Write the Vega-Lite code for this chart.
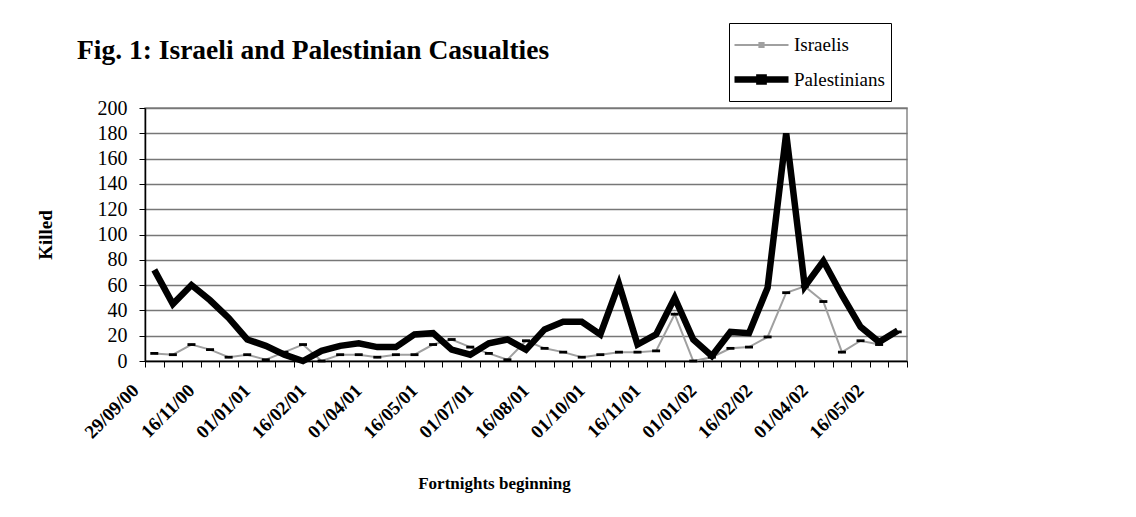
{
  "$schema": "https://vega.github.io/schema/vega-lite/v6.json",
  "autosize": "none",
  "width": 762,
  "height": 253,
  "padding": {"left": 145, "top": 108, "right": 229, "bottom": 156},
  "background": "white",
  "title": {
    "text": "Fig. 1: Israeli and Palestinian Casualties",
    "anchor": "start",
    "frame": "group",
    "dx": -68,
    "offset": -64,
    "baseline": "alphabetic",
    "font": "Liberation Serif",
    "fontSize": 27.5,
    "fontWeight": "bold",
    "color": "black"
  },
  "config": {
    "view": {"stroke": "#888888", "strokeWidth": 1.5},
    "axis": {"labelFont": "Liberation Serif", "titleFont": "Liberation Serif", "labelColor": "black", "titleColor": "black", "domainColor": "black", "tickColor": "black"}
  },
  "data": {
    "values": [
      {"date": "29/09/00", "series": "Israelis", "killed": 6},
      {"date": "16/10/00", "series": "Israelis", "killed": 5},
      {"date": "01/11/00", "series": "Israelis", "killed": 13},
      {"date": "16/11/00", "series": "Israelis", "killed": 9},
      {"date": "01/12/00", "series": "Israelis", "killed": 3},
      {"date": "16/12/00", "series": "Israelis", "killed": 5},
      {"date": "01/01/01", "series": "Israelis", "killed": 1},
      {"date": "16/01/01", "series": "Israelis", "killed": 7},
      {"date": "01/02/01", "series": "Israelis", "killed": 13},
      {"date": "16/02/01", "series": "Israelis", "killed": 0},
      {"date": "01/03/01", "series": "Israelis", "killed": 5},
      {"date": "16/03/01", "series": "Israelis", "killed": 5},
      {"date": "01/04/01", "series": "Israelis", "killed": 3},
      {"date": "16/04/01", "series": "Israelis", "killed": 5},
      {"date": "01/05/01", "series": "Israelis", "killed": 5},
      {"date": "16/05/01", "series": "Israelis", "killed": 13},
      {"date": "01/06/01", "series": "Israelis", "killed": 17},
      {"date": "16/06/01", "series": "Israelis", "killed": 11},
      {"date": "01/07/01", "series": "Israelis", "killed": 6},
      {"date": "16/07/01", "series": "Israelis", "killed": 1},
      {"date": "01/08/01", "series": "Israelis", "killed": 16},
      {"date": "16/08/01", "series": "Israelis", "killed": 10},
      {"date": "01/09/01", "series": "Israelis", "killed": 7},
      {"date": "16/09/01", "series": "Israelis", "killed": 3},
      {"date": "01/10/01", "series": "Israelis", "killed": 5},
      {"date": "16/10/01", "series": "Israelis", "killed": 7},
      {"date": "01/11/01", "series": "Israelis", "killed": 7},
      {"date": "16/11/01", "series": "Israelis", "killed": 8},
      {"date": "01/12/01", "series": "Israelis", "killed": 37},
      {"date": "16/12/01", "series": "Israelis", "killed": 0},
      {"date": "01/01/02", "series": "Israelis", "killed": 3},
      {"date": "16/01/02", "series": "Israelis", "killed": 10},
      {"date": "01/02/02", "series": "Israelis", "killed": 11},
      {"date": "16/02/02", "series": "Israelis", "killed": 19},
      {"date": "01/03/02", "series": "Israelis", "killed": 54},
      {"date": "16/03/02", "series": "Israelis", "killed": 59},
      {"date": "01/04/02", "series": "Israelis", "killed": 47},
      {"date": "16/04/02", "series": "Israelis", "killed": 7},
      {"date": "01/05/02", "series": "Israelis", "killed": 16},
      {"date": "16/05/02", "series": "Israelis", "killed": 13},
      {"date": "01/06/02", "series": "Israelis", "killed": 23},
      {"date": "29/09/00", "series": "Palestinians", "killed": 72},
      {"date": "16/10/00", "series": "Palestinians", "killed": 45},
      {"date": "01/11/00", "series": "Palestinians", "killed": 60},
      {"date": "16/11/00", "series": "Palestinians", "killed": 48},
      {"date": "01/12/00", "series": "Palestinians", "killed": 34},
      {"date": "16/12/00", "series": "Palestinians", "killed": 17},
      {"date": "01/01/01", "series": "Palestinians", "killed": 12},
      {"date": "16/01/01", "series": "Palestinians", "killed": 5},
      {"date": "01/02/01", "series": "Palestinians", "killed": 0},
      {"date": "16/02/01", "series": "Palestinians", "killed": 8},
      {"date": "01/03/01", "series": "Palestinians", "killed": 12},
      {"date": "16/03/01", "series": "Palestinians", "killed": 14},
      {"date": "01/04/01", "series": "Palestinians", "killed": 11},
      {"date": "16/04/01", "series": "Palestinians", "killed": 11},
      {"date": "01/05/01", "series": "Palestinians", "killed": 21},
      {"date": "16/05/01", "series": "Palestinians", "killed": 22},
      {"date": "01/06/01", "series": "Palestinians", "killed": 9},
      {"date": "16/06/01", "series": "Palestinians", "killed": 5},
      {"date": "01/07/01", "series": "Palestinians", "killed": 14},
      {"date": "16/07/01", "series": "Palestinians", "killed": 17},
      {"date": "01/08/01", "series": "Palestinians", "killed": 9},
      {"date": "16/08/01", "series": "Palestinians", "killed": 25},
      {"date": "01/09/01", "series": "Palestinians", "killed": 31},
      {"date": "16/09/01", "series": "Palestinians", "killed": 31},
      {"date": "01/10/01", "series": "Palestinians", "killed": 21},
      {"date": "16/10/01", "series": "Palestinians", "killed": 61},
      {"date": "01/11/01", "series": "Palestinians", "killed": 13},
      {"date": "16/11/01", "series": "Palestinians", "killed": 21},
      {"date": "01/12/01", "series": "Palestinians", "killed": 50},
      {"date": "16/12/01", "series": "Palestinians", "killed": 17},
      {"date": "01/01/02", "series": "Palestinians", "killed": 4},
      {"date": "16/01/02", "series": "Palestinians", "killed": 23},
      {"date": "01/02/02", "series": "Palestinians", "killed": 22},
      {"date": "16/02/02", "series": "Palestinians", "killed": 58},
      {"date": "01/03/02", "series": "Palestinians", "killed": 180},
      {"date": "16/03/02", "series": "Palestinians", "killed": 59},
      {"date": "01/04/02", "series": "Palestinians", "killed": 79},
      {"date": "16/04/02", "series": "Palestinians", "killed": 52},
      {"date": "01/05/02", "series": "Palestinians", "killed": 27},
      {"date": "16/05/02", "series": "Palestinians", "killed": 15},
      {"date": "01/06/02", "series": "Palestinians", "killed": 24}
    ]
  },
  "encoding": {
    "x": {
      "field": "date",
      "type": "ordinal",
      "sort": null,
      "bandPosition": 0.5,
      "scale": {"type": "band", "paddingInner": 0, "paddingOuter": 0},
      "axis": {
        "title": "Fortnights beginning",
        "titleFontSize": 17,
        "titleFontWeight": "bold",
        "titlePadding": 34,
        "titleX": 349,
        "labelAngle": -45,
        "labelAlign": "right",
        "labelBaseline": "middle",
        "labelFontSize": 19,
        "labelFontWeight": "bold",
        "labelPadding": 20,
        "labelOffset": -19,
        "labelOverlap": false,
        "tickBand": "extent",
        "tickSize": 6,
        "domainWidth": 1.5,
        "labelExpr": "indexof(['29/09/00','16/11/00','01/01/01','16/02/01','01/04/01','16/05/01','01/07/01','16/08/01','01/10/01','16/11/01','01/01/02','16/02/02','01/04/02','16/05/02'], datum.value) >= 0 ? datum.label : ''",
        "grid": false
      }
    },
    "y": {
      "field": "killed",
      "type": "quantitative",
      "scale": {"domain": [0, 200], "nice": false},
      "axis": {
        "title": "Killed",
        "titleFontSize": 19,
        "titleFontWeight": "bold",
        "titlePadding": 42,
        "values": [0, 20, 40, 60, 80, 100, 120, 140, 160, 180, 200],
        "labelFontSize": 20,
        "labelPadding": 12,
        "tickSize": 6,
        "domainWidth": 1.5,
        "grid": true,
        "gridColor": "#777777",
        "gridWidth": 1.5
      }
    }
  },
  "layer": [
    {
      "transform": [{"filter": "datum.series == 'Israelis'"}],
      "mark": {"type": "line", "strokeJoin": "miter"},
      "encoding": {
        "stroke": {
          "field": "series",
          "type": "nominal",
          "scale": {"domain": ["Israelis", "Palestinians"], "range": ["#a0a0a0", "#000000"]},
          "legend": {
            "title": null,
            "orient": "none",
            "legendX": 584,
            "legendY": -85,
            "fillColor": "white",
            "strokeColor": "black",
            "padding": 6,
            "labelFont": "Liberation Serif",
            "labelFontSize": 19,
            "labelColor": "black",
            "symbolType": "M-1.8,0H1.8M-0.14,-0.13H0.14V0.13H-0.14Z",
            "symbolSize": 900,
            "symbolFillColor": "black",
            "symbolOffset": 8,
            "rowPadding": 6,
            "labelOffset": 14
          }
        },
        "strokeWidth": {
          "field": "series",
          "type": "nominal",
          "scale": {"domain": ["Israelis", "Palestinians"], "range": [2, 6.5]},
          "legend": null
        }
      }
    },
    {
      "transform": [{"filter": "datum.series == 'Israelis'"}],
      "mark": {"type": "point", "shape": "M-1,-0.35H1V0.35H-1Z", "filled": true, "color": "black", "size": 64, "opacity": 1},
      "encoding": {}
    },
    {
      "transform": [{"filter": "datum.series == 'Palestinians'"}],
      "mark": {"type": "line", "strokeJoin": "miter", "strokeMiterLimit": 4},
      "encoding": {
        "stroke": {"field": "series", "type": "nominal"},
        "strokeWidth": {"field": "series", "type": "nominal", "legend": null}
      }
    }
  ]
}
